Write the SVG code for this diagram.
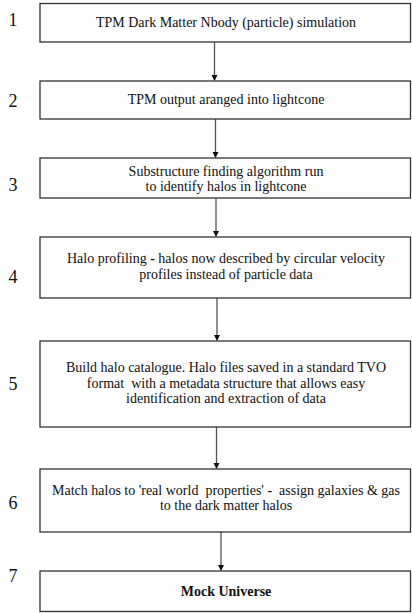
<svg xmlns="http://www.w3.org/2000/svg" width="412" height="613" viewBox="0 0 412 613">
<style>
.box{fill:#fdfdfd;stroke:#333;stroke-width:1.3}
.t{font-family:"Liberation Serif",serif;font-size:14px;fill:#111;text-anchor:middle}
.n{font-family:"Liberation Serif",serif;font-size:18px;fill:#111;text-anchor:middle}
.c{stroke:#555;stroke-width:1.3;fill:none}
</style>
<defs>
<marker id="ah" markerWidth="6" markerHeight="7" refX="5" refY="3.5" orient="auto" markerUnits="userSpaceOnUse">
<path d="M0,0.5 L6,3.5 L0,6.5 Z" fill="#111"/>
</marker>
</defs>
<rect width="412" height="613" fill="#fff"/>
<g id="connectors">
<line class="c" x1="214.5" y1="42" x2="214.5" y2="80" marker-end="url(#ah)"/>
<line class="c" x1="215.5" y1="119" x2="215.5" y2="157" marker-end="url(#ah)"/>
<line class="c" x1="216" y1="198" x2="216" y2="236" marker-end="url(#ah)"/>
<line class="c" x1="217" y1="298" x2="217" y2="340" marker-end="url(#ah)"/>
<line class="c" x1="216.5" y1="427" x2="216.5" y2="468" marker-end="url(#ah)"/>
<line class="c" x1="221" y1="532" x2="221" y2="570" marker-end="url(#ah)"/>
</g>
<g id="node1">
<text class="n" x="13" y="26">1</text>
<rect class="box" x="40" y="3.5" width="370.5" height="38.5"/>
<text class="t" x="226" y="27">TPM Dark Matter Nbody (particle) simulation</text>
</g>
<g id="node2">
<text class="n" x="13" y="107">2</text>
<rect class="box" x="40" y="81" width="370.5" height="38"/>
<text class="t" x="226" y="104">TPM output aranged into lightcone</text>
</g>
<g id="node3">
<text class="n" x="13" y="191">3</text>
<rect class="box" x="40" y="158" width="370.5" height="40"/>
<text class="t" x="226" y="176">Substructure finding algorithm run</text>
<text class="t" x="226" y="191">to identify halos in lightcone</text>
</g>
<g id="node4">
<text class="n" x="13" y="283">4</text>
<rect class="box" x="40" y="237" width="370.5" height="61"/>
<text class="t" x="226" y="263">Halo profiling <tspan font-weight="bold">-</tspan> halos now described by circular velocity</text>
<text class="t" x="226" y="279">profiles instead of particle data</text>
</g>
<g id="node5">
<text class="n" x="13" y="390">5</text>
<rect class="box" x="40" y="341" width="370.5" height="86"/>
<text class="t" x="226" y="372">Build halo catalogue. Halo files saved in a standard TVO</text>
<text class="t" x="226" y="388" xml:space="preserve">format  with a metadata structure that allows easy</text>
<text class="t" x="226" y="403">identification and extraction of data</text>
</g>
<g id="node6">
<text class="n" x="13" y="509">6</text>
<rect class="box" x="40" y="469" width="370.5" height="63"/>
<text class="t" x="226" y="495" xml:space="preserve">Match halos to 'real world  properties' <tspan font-weight="bold">-</tspan>  assign galaxies &amp; gas</text>
<text class="t" x="226" y="510">to the dark matter halos</text>
</g>
<g id="node7">
<text class="n" x="13" y="582">7</text>
<rect class="box" x="40" y="571" width="370.5" height="40.5"/>
<text class="t" x="226" y="596" font-weight="bold">Mock Universe</text>
</g>
</svg>
